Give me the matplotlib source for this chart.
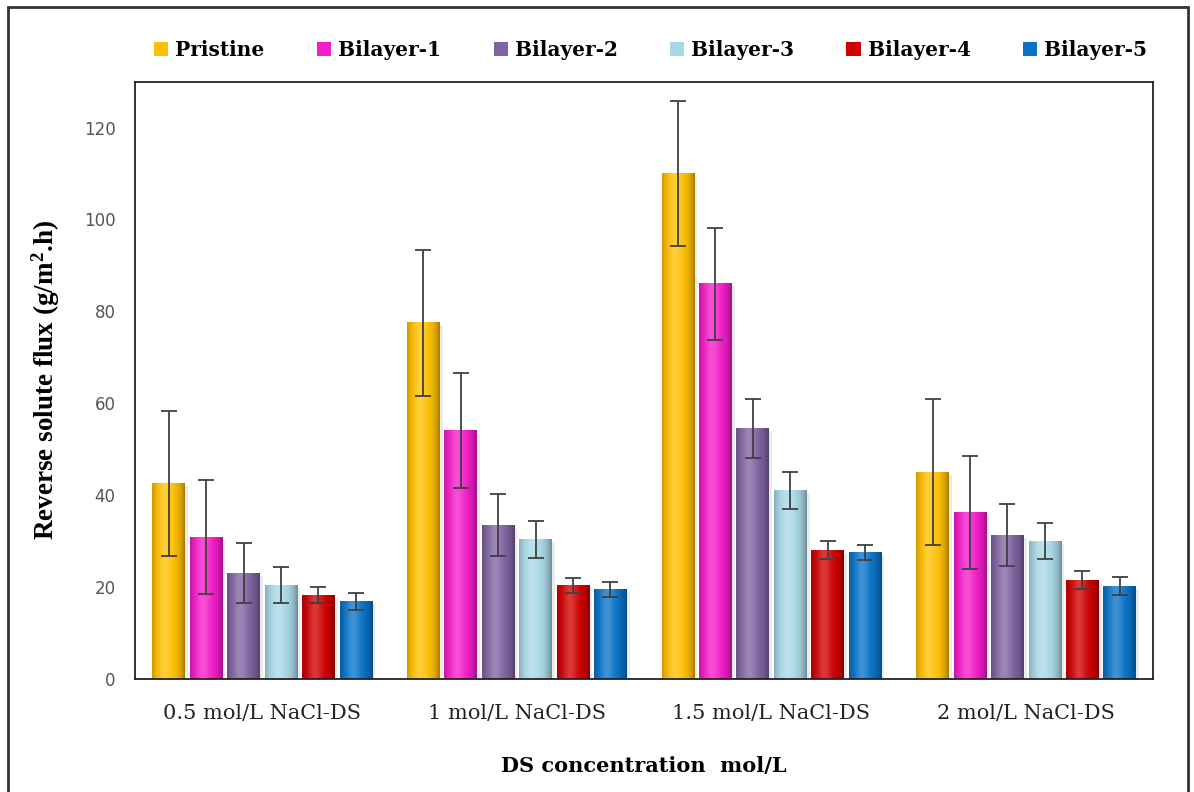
"""Reverse solute flux of pristine and bilayer membranes at four NaCl draw concentrations."""
import numpy as np
import matplotlib
matplotlib.use("Agg")
import matplotlib.pyplot as plt
from matplotlib.colors import to_rgb
from matplotlib.patches import Patch, Rectangle

categories = ["0.5 mol/L NaCl-DS", "1 mol/L NaCl-DS", "1.5 mol/L NaCl-DS", "2 mol/L NaCl-DS"]
series = ["Pristine", "Bilayer-1", "Bilayer-2", "Bilayer-3", "Bilayer-4", "Bilayer-5"]

pristine = [42.5, 77.5, 110.0, 45.0]
bilayer_1 = [30.8, 54.0, 86.0, 36.2]
bilayer_2 = [23.0, 33.5, 54.5, 31.3]
bilayer_3 = [20.4, 30.3, 41.0, 30.0]
bilayer_4 = [18.2, 20.3, 28.0, 21.5]
bilayer_5 = [16.8, 19.4, 27.5, 20.2]

pristine_err = [15.8, 15.9, 15.8, 15.8]
bilayer_1_err = [12.4, 12.5, 12.2, 12.3]
bilayer_2_err = [6.6, 6.7, 6.5, 6.7]
bilayer_3_err = [4.0, 4.0, 4.0, 4.0]
bilayer_4_err = [1.7, 1.6, 2.0, 2.0]
bilayer_5_err = [1.9, 1.7, 1.6, 2.0]

values = [pristine, bilayer_1, bilayer_2, bilayer_3, bilayer_4, bilayer_5]
errors = [pristine_err, bilayer_1_err, bilayer_2_err, bilayer_3_err, bilayer_4_err, bilayer_5_err]
colors = ["#FFC000", "#F51DCB", "#8064A2", "#A8D8E6", "#D10000", "#0A73C8"]


def shaded(color):
    # cylinder-like horizontal shading: darker edges, light band left of centre
    base = np.array(to_rgb(color))
    t = np.linspace(0, 1, 64)
    light = 0.22 * np.exp(-((t - 0.4) / 0.2) ** 2)
    dark = 0.35 * (np.abs(t - 0.45) / 0.55) ** 3
    rgb = base * (1 - dark[:, None]) + (1 - base) * light[:, None]
    return np.clip(rgb, 0, 1)[None, :, :]


fig = plt.figure(figsize=(11.94, 7.92), dpi=100)
ax = fig.add_axes([0.113, 0.143, 0.853, 0.754])

x = np.arange(len(categories))
step, width = 0.147, 0.128
for i, (vals, errs, col) in enumerate(zip(values, errors, colors)):
    xs = x + (i - 2.5) * step
    img = shaded(col)
    for xc, v in zip(xs, vals):
        ax.add_patch(Rectangle((xc - width / 2 + 0.012, 0), width, v - 0.6,
                               facecolor="#000000", alpha=0.08, lw=0, zorder=1))
        ax.imshow(img, extent=(xc - width / 2, xc + width / 2, 0, v),
                  aspect="auto", interpolation="bilinear", zorder=2)
    ax.errorbar(xs, vals, yerr=errs, fmt="none", ecolor="#404040",
                elinewidth=1.3, capsize=5.5, capthick=1.3, zorder=3)

ax.set_xlim(-0.5, 3.5)
ax.set_ylim(0, 130)
ax.set_xticks(x)
ax.set_xticklabels(categories, family="DejaVu Serif", fontsize=15, color="#222222")
ax.set_yticks(np.arange(0, 121, 20))
ax.tick_params(axis="y", length=0, pad=14, labelsize=12, labelcolor="#555555")
ax.tick_params(axis="x", length=0, pad=18)
for s in ax.spines.values():
    s.set_color("#222222")
    s.set_linewidth(1.3)

ax.set_xlabel("DS concentration  mol/L", family="DejaVu Serif", fontweight="bold",
              fontsize=15, labelpad=24)
ax.set_ylabel("Reverse solute flux (g/m$\\mathregular{^2}$.h)", family="Liberation Serif",
              fontweight="bold", fontsize=19.5, labelpad=16)

handles = [Patch(facecolor=c, edgecolor="none") for c in colors]
fig.legend(handles, series, loc="center", bbox_to_anchor=(0.545, 0.937), ncol=6,
           frameon=False, handlelength=0.7, handleheight=0.7, handletextpad=0.35,
           columnspacing=2.6, prop={"family": "DejaVu Serif", "weight": "bold", "size": 14.5})

fig.add_artist(Rectangle((0.007, -0.01), 0.988, 1.001, transform=fig.transFigure,
                         fill=False, edgecolor="#333333", lw=2))

fig.savefig("out.png", dpi=100)
